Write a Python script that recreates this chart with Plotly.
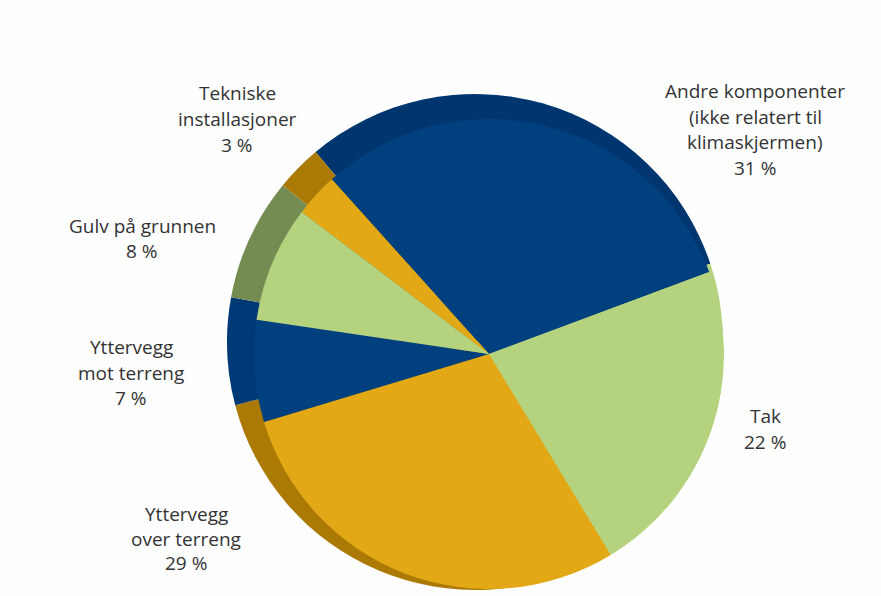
import plotly.graph_objects as go

WIDTH, HEIGHT = 881, 596

# Building component shares (percent)
components = [
    "Andre komponenter (ikke relatert til klimaskjermen)",
    "Tak",
    "Yttervegg over terreng",
    "Yttervegg mot terreng",
    "Gulv på grunnen",
    "Tekniske installasjoner",
]
shares = [31, 22, 29, 7, 8, 3]
top_colors = ["#00407f", "#b5d27e", "#e2a815", "#00407f", "#b5d27e", "#e2a815"]
rim_colors = ["#00366f", "#b5d27e", "#ab7a05", "#003a76", "#748b52", "#ab7a05"]

# Label text per slice, one entry per printed line, with its centre in pixels
label_lines = [
    ("Tekniske", 237, 93), ("installasjoner", 237, 119), ("3 %", 237, 145),
    ("Andre komponenter", 755, 91), ("(ikke relatert til", 755, 117),
    ("klimaskjermen)", 755, 142), ("31 %", 755, 168),
    ("Gulv på grunnen", 142, 226), ("8 %", 142, 251),
    ("Yttervegg", 131, 347), ("mot terreng", 131, 373), ("7 %", 131, 398),
    ("Tak", 765, 416), ("22 %", 765, 442),
    ("Yttervegg", 186, 514), ("over terreng", 186, 539), ("29 %", 186, 563),
]


def pie_domain(cx, cy, r):
    return dict(
        x=[(cx - r) / WIDTH, (cx + r) / WIDTH],
        y=[1 - (cy + r) / HEIGHT, 1 - (cy - r) / HEIGHT],
    )


def disc(colors, cx, cy, r, start):
    return go.Pie(
        labels=components,
        values=shares,
        sort=False,
        direction="clockwise",
        rotation=start,
        marker=dict(colors=colors, line=dict(width=0)),
        textinfo="none",
        hoverinfo="label+percent",
        showlegend=False,
        domain=pie_domain(cx, cy, r),
    )


# A darker rim disc sits behind the main disc to give the raised look
fig = go.Figure([
    disc(rim_colors, 475, 342, 248, 320),
    disc(top_colors, 489, 354, 235, 318),
])

for text, x, y in label_lines:
    fig.add_annotation(
        text=text, x=x / WIDTH, y=1 - y / HEIGHT,
        xref="paper", yref="paper", xanchor="center", yanchor="middle",
        showarrow=False, font=dict(family="Open Sans", size=19, color="#333333"),
    )

fig.update_layout(
    width=WIDTH, height=HEIGHT,
    margin=dict(l=0, r=0, t=0, b=0),
    paper_bgcolor="#fefefe",
)

fig.write_html("out.html")
